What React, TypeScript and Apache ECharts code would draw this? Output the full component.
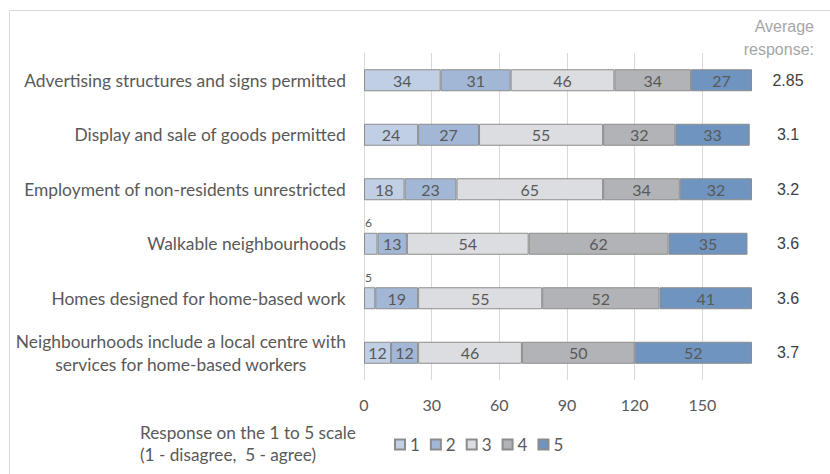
import React, { useEffect, useRef } from 'react';
import * as echarts from 'echarts';

const categories = [
  'Advertising structures and signs permitted',
  'Display and sale of goods permitted',
  'Employment of non-residents unrestricted',
  'Walkable neighbourhoods',
  'Homes designed for home-based work',
  'Neighbourhoods include a local centre with\nservices for home-based workers',
];
const seriesNames = ['1', '2', '3', '4', '5'];
const resp1 = [34, 24, 18, 6, 5, 12];
const resp2 = [31, 27, 23, 13, 19, 12];
const resp3 = [46, 55, 65, 54, 55, 46];
const resp4 = [34, 32, 34, 62, 52, 50];
const resp5 = [27, 33, 32, 35, 41, 52];
const averages = ['2.85', '3.1', '3.2', '3.6', '3.6', '3.7'];
const axisMax = 172;
const tickStep = 30;
const averageTitle = ['Average', 'response:'];
const legendTitle = 'Response on the 1 to 5 scale\n(1 - disagree,  5 - agree)';

const colors = ['#c0cfe4', '#a2b7d6', '#dcdde0', '#b2b3b6', '#6f94bf'];
const FONT = 'Lato';
const TXT = '#595959';

export default function App() {
  const ref = useRef<HTMLDivElement>(null);
  useEffect(() => {
    document.body.style.margin = '0';
    if (!ref.current) return;
    const chart = echarts.init(ref.current, undefined, { renderer: 'svg' });
    const all = [resp1, resp2, resp3, resp4, resp5];
    const series = all.map((arr, i) => ({
      name: seriesNames[i],
      type: 'bar',
      stack: 'total',
      barWidth: 22,
      itemStyle: { color: colors[i], borderColor: '#8c8c8c', borderWidth: 1 },
      label: {
        show: true,
        position: 'inside',
        color: TXT,
        fontFamily: FONT,
        fontSize: 16,
      },
      data: arr.map((v) =>
        v < 8
          ? { value: v, label: { position: [1, -16], fontSize: 12, color: TXT } }
          : v
      ),
    }));
    chart.setOption({
      animation: false,
      grid: { left: 364, right: 78, top: 53, bottom: 94, containLabel: false },
      legend: {
        data: seriesNames,
        left: 394,
        top: 436,
        padding: 0,
        itemWidth: 10,
        itemHeight: 10,
        itemGap: 10,
        icon: 'rect',
        textStyle: { color: TXT, fontFamily: FONT, fontSize: 17, padding: [0, 0, 0, 0] },
      },
      xAxis: {
        type: 'value',
        min: 0,
        max: axisMax,
        interval: tickStep,
        axisLine: { show: false },
        axisTick: { show: false },
        axisLabel: {
          color: TXT,
          fontFamily: FONT,
          fontSize: 16,
          margin: 16,
          showMaxLabel: false,
          formatter: (v: number) => (v % tickStep === 0 ? String(v) : ''),
        },
        splitLine: { show: true, showMaxLine: false, lineStyle: { color: '#d9d9d9', width: 1 } },
      },
      yAxis: [
        {
          type: 'category',
          data: categories,
          inverse: true,
          axisTick: { show: false },
          axisLine: { show: true, lineStyle: { color: '#d9d9d9' } },
          axisLabel: {
            margin: 18,
            color: TXT,
            fontFamily: FONT,
            fontSize: 17.4,
            lineHeight: 23,
            formatter: (v: string) =>
              v
                .split('\n')
                .map((l) => '{c|' + l + '}')
                .join('\n'),
            rich: {
              c: { align: 'center', color: TXT, fontFamily: FONT, fontSize: 17.4, lineHeight: 23 },
            },
          },
        },
        {
          type: 'category',
          data: averages,
          inverse: true,
          position: 'right',
          axisTick: { show: false },
          axisLine: { show: false },
          axisLabel: {
            margin: 36,
            align: 'center',
            color: '#404040',
            fontFamily: 'Liberation Sans',
            fontSize: 16,
          },
        },
      ],
      graphic: [
        {
          type: 'rect',
          z: -10,
          shape: { x: 9.5, y: 10.5, width: 900, height: 600 },
          style: { fill: 'none', stroke: '#d9d9d9', lineWidth: 1 },
        },
        ...averageTitle.map((t, i) => ({
          type: 'text',
          right: 16,
          top: 18 + i * 23,
          style: {
            text: t,
            fill: '#a6a6a6',
            fontFamily: 'Liberation Sans',
            fontSize: 16,
          },
        })),
        {
          type: 'text',
          left: 140,
          top: 421,
          style: {
            text: legendTitle,
            fill: TXT,
            fontFamily: FONT,
            fontSize: 17.2,
            lineHeight: 22.5,
          },
        },
      ],
      series,
    });
    return () => chart.dispose();
  }, []);
  return <div ref={ref} style={{ width: 830, height: 474 }} />;
}
